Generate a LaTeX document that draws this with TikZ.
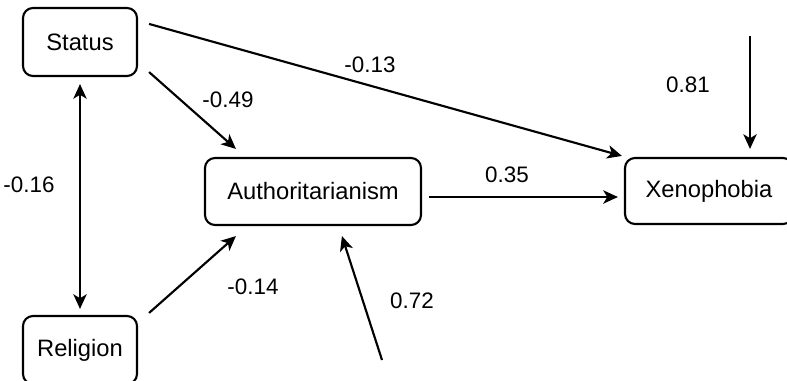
\documentclass[tikz,border=0pt]{standalone}
\usepackage{fontspec}
\setmainfont{Liberation Sans}
\usetikzlibrary{arrows.meta,calc}
\begin{document}
\begin{tikzpicture}[x=0.75pt,y=-0.75pt,
  tip/.tip={Stealth[length=11pt,width=10pt,inset=3pt]},
  box/.style={draw,line width=1.6pt,rounded corners=7.5pt,inner sep=0pt,font=\fontsize{17.8}{20}\selectfont},
  conn/.style={line width=1.6pt,-tip},
  lab/.style={font=\fontsize{16.8}{19}\selectfont,inner sep=0pt}]
\useasboundingbox (0,0) rectangle (787,381);
\node[box,minimum width=114*0.75pt,minimum height=68*0.75pt] (status) at (80,42) {Status};
\node[box,minimum width=114*0.75pt,minimum height=68*0.75pt] (religion) at (80,350) {Religion};
\node[box,minimum width=216*0.75pt,minimum height=67*0.75pt] (auth) at (313,191.5) {Authoritarianism};
\node[box,minimum width=168*0.75pt,minimum height=66*0.75pt] (xeno) at (709,191) {Xenophobia};
\coordinate (e81) at (750,36);
\coordinate (e72) at (382,360);
% connectors
\draw[conn] ($(status.north east)+(11,17)$) -- ($(xeno.north west)+(-2,-1)$);
\draw[conn] ($(status.south east)+(11,-5)$) -- ($(auth.north west)+(32,-8)$);
\draw[conn] ($(religion.north east)+(11,-2)$) -- ($(auth.south west)+(32,10)$);
\draw[conn,tip-tip] ($(status.south)+(0,7)$) -- ($(religion.north)+(0,-6)$);
\draw[conn] ($(auth.east)+(7,5.5)$) -- ($(xeno.west)+(-6,6)$);
\draw[conn] (e81) -- ($(e81 |- xeno.north)+(0,-8)$);
\draw[conn] (e72) -- ($(auth.south west)+(138,10)$);
% labels
\node[lab] (l13) at (370,65) {-0.13};
\node[lab] (l49) at (228,100) {-0.49};
\node[lab] (l16) at (29,185) {-0.16};
\node[lab] (l14) at (253,287) {-0.14};
\node[lab] (l35) at (507,175) {0.35};
\node[lab] (l81) at (688,85) {0.81};
\node[lab] (l72) at (412,301) {0.72};
\end{tikzpicture}
\end{document}
